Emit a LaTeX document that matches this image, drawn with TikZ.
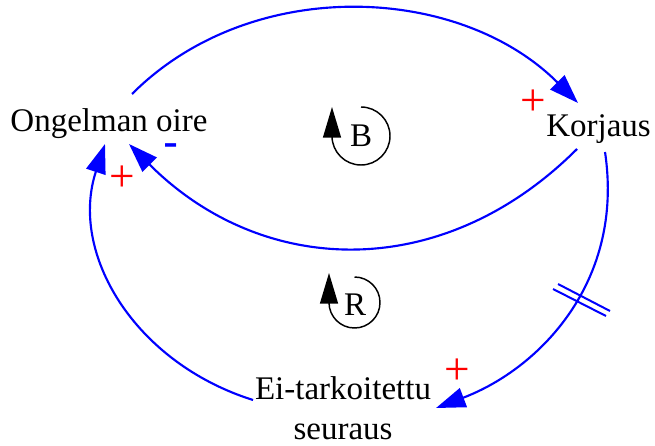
\documentclass[tikz,border=0pt]{standalone}
\usepackage{fontspec}
\setmainfont{Liberation Serif}
\newfontfamily\signfont{Liberation Sans}
\usetikzlibrary{arrows.meta}
\begin{document}
\begin{tikzpicture}[x=0.75pt,y=-0.75pt,
  lbl/.style={font=\fontsize{24.75}{30}\selectfont, inner sep=0pt, anchor=base},
  link/.style={blue, line width=1.6pt, -{Triangle[length=22pt,width=15pt]}},
  loopline/.style={black, line width=1.1pt, -{Triangle[length=23pt,width=13.5pt]}},
  plus/.style={red, font=\fontsize{34}{34}\selectfont, inner sep=0pt},
  minus/.style={blue, font=\signfont\fontsize{34}{34}\selectfont, inner sep=0pt, text height=0.32em, text depth=0pt},
  hash/.style={blue, line width=1.5pt}]
\useasboundingbox (0,0) rectangle (655,445);
\node[lbl] (oire) at (109,132) {Ongelman oire};
\node[lbl] (korj) at (598.5,137) {Korjaus};
\node[lbl, align=center] (ei) at (343,439.5) {Ei-tarkoitettu\\seuraus};

\draw[link] ([shift={(23,-38)}]oire.base) .. controls (251,-25) and (459,-16) .. ([shift={(-20.5,-34)}]korj.base);
\draw[link] ([shift={(-21.5,12)}]korj.base) .. controls (443,283) and (263,278) .. ([shift={(20,12)}]oire.base);
\draw[link] ([shift={(6.5,15)}]korj.base) .. controls (624.5,282) and (539,369) .. ([shift={(93,-31.5)}]ei.base);
\draw[link] ([shift={(-90,-39.5)}]ei.base) .. controls (134,362.5) and (69,253) .. ([shift={(-4,12)}]oire.base);

\draw[hash] (553,289) -- (606,316);
\draw[hash] (558,284) -- (610,311);

\draw[loopline] (361,107) arc[start angle=-90, end angle=180, radius=29] -- ++(0,-29);
\node[lbl] (bl) at (361,147) {B};
\draw[loopline] (354.5,277) arc[start angle=-90, end angle=180, radius=25.5] -- ++(0,-29.5);
\node[lbl] (rl) at (355,315) {R};

\node[plus] (p1) at (533.5,102.5) {+};
\node[plus] (p2) at (122.5,178.5) {+};
\node[plus] (p3) at (457,371.5) {+};
\node[minus] (m1) at (171.5,155) {-};
\end{tikzpicture}
\end{document}
